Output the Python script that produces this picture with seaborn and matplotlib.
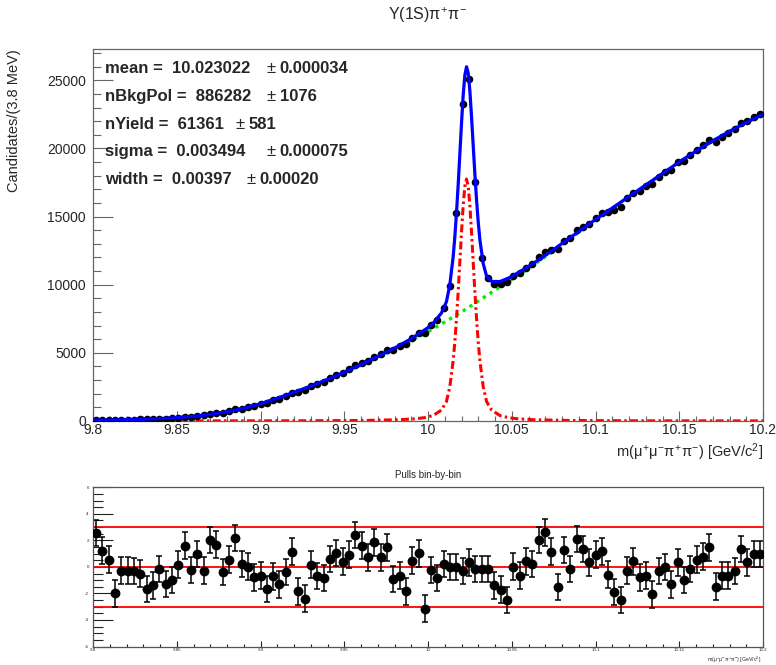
import numpy as np
import pandas as pd
import matplotlib
matplotlib.use("Agg")
import matplotlib.pyplot as plt
from matplotlib.ticker import MultipleLocator
import seaborn as sns

# ---------------- data ----------------
mass_lo, mass_hi, n_bins = 9.8, 10.2, 106

counts = [85, 79, 77, 59, 77, 92, 103, 113, 114, 136,
          169, 179, 208, 255, 313, 316, 383, 414, 514, 581,
          611, 699, 853, 905, 1009, 1104, 1232, 1345, 1527, 1649,
          1854, 2089, 2119, 2261, 2566, 2703, 2872, 3140, 3366, 3527,
          3794, 4102, 4261, 4430, 4725, 4886, 5175, 5234, 5497, 5655,
          6122, 6443, 6427, 7030, 7435, 8268, 9888, 15253, 23285, 25115,
          17524, 11972, 10459, 10067, 10078, 10188, 10669, 10858, 11247, 11520,
          12012, 12389, 12560, 12594, 13241, 13413, 14014, 14266, 14478, 14887,
          15240, 15336, 15476, 15731, 16337, 16711, 16886, 17244, 17376, 17923,
          18286, 18431, 18982, 19097, 19516, 19916, 20234, 20612, 20464, 20849,
          21106, 21405, 21898, 21997, 22310, 22539]

pulls = [2.55, 1.22, 0.55, -2.0, -0.28, -0.28, -0.32, -0.5, -1.65, -1.4,
         -0.15, -1.28, -0.98, 0.18, 1.6, -0.22, 0.98, -0.28, 2.02, 1.68,
         -0.4, 0.55, 2.18, 0.22, 0.02, -0.78, -0.65, -1.65, -0.72, -1.32,
         -0.4, 1.15, -1.85, -2.4, 0.18, -0.7, -0.85, 0.6, 1.05, 0.4,
         0.92, 2.42, 1.6, 0.72, 1.85, 0.72, 1.48, -0.9, -0.65, -1.85,
         0.48, 1.02, -3.15, -0.22, -0.85, 0.22, -0.02, -0.02, -0.32, 0.35,
         -0.15, -0.15, -0.15, -1.4, -1.72, -2.48, 0.02, -0.65, 0.42, 0.22,
         2.02, 2.6, 1.15, -1.52, 1.28, -0.15, 2.1, 1.35, 0.35, 0.92,
         1.18, -0.58, -1.9, -2.48, -0.28, 0.42, -0.78, -0.65, -2.08, -0.32,
         -0.02, -1.32, 0.35, -0.98, -0.15, 0.55, 0.78, 1.48, -1.48, -0.65,
         -0.65, -0.32, 1.35, 0.35, 0.98, 0.98]

# background component (green)
bkg_mass = [9.80, 9.81, 9.82, 9.83, 9.84, 9.85, 9.86, 9.87, 9.88, 9.89,
            9.90, 9.91, 9.92, 9.93, 9.94, 9.95, 9.96, 9.97, 9.98, 9.99,
            10.00, 10.01, 10.02, 10.03, 10.04, 10.05, 10.06, 10.07, 10.08, 10.09,
            10.10, 10.11, 10.12, 10.13, 10.14, 10.15, 10.16, 10.17, 10.18, 10.19, 10.20]
bkg_counts = [60, 70, 90, 120, 170, 240, 330, 470, 660, 920,
              1250, 1650, 2080, 2540, 3020, 3540, 4100, 4680, 5270, 5900,
              6560, 7260, 8000, 8800, 9600, 10400, 11200, 12050, 12950, 13850,
              14750, 15600, 16450, 17300, 18150, 19000, 19800, 20550, 21250, 21900, 22500]

# signal component (red)
sig_mass = [9.800, 9.923, 9.963, 9.983, 9.993, 9.998, 10.003, 10.008, 10.011, 10.013,
            10.015, 10.016, 10.017, 10.018, 10.019, 10.020, 10.021, 10.022, 10.023, 10.024,
            10.025, 10.026, 10.027, 10.028, 10.029, 10.030, 10.031, 10.033, 10.035, 10.038,
            10.043, 10.048, 10.053, 10.063, 10.083, 10.123, 10.200]
sig_counts = [4, 15, 41, 94, 169, 247, 396, 800, 1420, 2490,
              4400, 5770, 7480, 9450, 11630, 13830, 15820, 17230, 17760, 17230,
              15820, 13830, 11630, 9450, 7480, 5770, 4400, 2490, 1420, 800,
              396, 247, 169, 94, 41, 15, 5]

# total model (blue)
model_mass = [9.80, 9.81, 9.82, 9.83, 9.84, 9.85, 9.86, 9.87, 9.88, 9.89,
              9.90, 9.91, 9.92, 9.93, 9.94, 9.95, 9.96, 9.97, 9.98, 9.99,
              10.000, 10.003, 10.008, 10.011, 10.013, 10.015, 10.016, 10.017, 10.018, 10.019,
              10.020, 10.021, 10.022, 10.023, 10.024, 10.025, 10.026, 10.027, 10.028, 10.029,
              10.030, 10.031, 10.033, 10.035, 10.038, 10.043, 10.048, 10.05, 10.06, 10.07,
              10.08, 10.09, 10.10, 10.11, 10.12, 10.13, 10.14, 10.15, 10.16, 10.17,
              10.18, 10.19, 10.20]
model_counts = [64, 75, 96, 127, 178, 249, 341, 483, 675, 937,
                1270, 1672, 2105, 2568, 3052, 3578, 4140, 4735, 5350, 6040,
                6850, 7166, 7920, 8754, 9972, 12030, 13474, 15258, 17302, 19556,
                21830, 23900, 25390, 26000, 25550, 24220, 22310, 20190, 18090, 16200,
                14570, 13280, 11530, 10620, 10240, 10236, 10487, 10610, 11340, 12150,
                13025, 13905, 14790, 15630, 16475, 17320, 18165, 19012, 19810, 20560,
                21260, 21910, 22510]

param_lines = [("mean =  10.023022", "0.000034"),
               ("nBkgPol =  886282", "1076"),
               ("nYield =  61361", "581"),
               ("sigma =  0.003494", "0.000075"),
               ("width =  0.00397", "0.00020")]

tick_vals = [9.8, 9.85, 9.9, 9.95, 10.0, 10.05, 10.1, 10.15, 10.2]
tick_labs = ["9.8", "9.85", "9.9", "9.95", "10", "10.05", "10.1", "10.15", "10.2"]

# ---------------- style ----------------
sns.set_style("ticks")
plt.rcParams["font.family"] = ["Liberation Sans", "DejaVu Sans"]
plt.rcParams["mathtext.fontset"] = "custom"
plt.rcParams["mathtext.rm"] = "Liberation Sans"
plt.rcParams["mathtext.it"] = "Liberation Sans"
plt.rcParams["mathtext.bf"] = "Liberation Sans:bold"

W, H = 776, 665
fig = plt.figure(figsize=(W / 100, H / 100), dpi=100)

def fx(px):
    return px / W

def fy(py):
    return 1 - py / H

bin_w = (mass_hi - mass_lo) / n_bins
centers = mass_lo + (np.arange(n_bins) + 0.5) * bin_w
df = pd.DataFrame({"m": centers, "n": counts, "pull": pulls})

frame_col = "#666666"

# ---------------- main panel ----------------
ax = fig.add_axes([fx(93), fy(421), fx(763) - fx(93), fy(49) - fy(421)])

sns.lineplot(x=bkg_mass, y=bkg_counts, ax=ax, color="#00ee00", lw=2.4, sort=False, zorder=2)
ax.lines[-1].set_linestyle((0, (1, 1.4)))
sns.lineplot(x=sig_mass, y=sig_counts, ax=ax, color="#ff0000", lw=2.2, sort=False, zorder=2)
ax.lines[-1].set_linestyle((0, (2.6, 1.1, 0.8, 1.1)))
sns.scatterplot(data=df, x="m", y="n", ax=ax, color="black", s=30, linewidth=0, zorder=3)
sns.lineplot(x=model_mass, y=model_counts, ax=ax, color="#0000ff", lw=2.3, sort=False, zorder=4)

ax.set_xlim(mass_lo, mass_hi)
ax.set_ylim(0, 27300)
ax.set_xticks(tick_vals)
ax.set_xticklabels(tick_labs)
ax.xaxis.set_minor_locator(MultipleLocator(0.01))
ax.yaxis.set_major_locator(MultipleLocator(5000))
ax.yaxis.set_minor_locator(MultipleLocator(1000))
ax.tick_params(axis="y", which="major", direction="in", length=14.4, width=0.8,
               color=frame_col, labelsize=10, pad=5)
ax.tick_params(axis="y", which="minor", direction="in", length=6, width=0.8, color=frame_col)
ax.tick_params(axis="x", which="major", direction="in", length=7.2, width=0.8,
               color=frame_col, labelsize=10, pad=1.5)
ax.tick_params(axis="x", which="minor", direction="in", length=3.6, width=0.8, color=frame_col)
for sp in ax.spines.values():
    sp.set_visible(True)
    sp.set_color(frame_col)
    sp.set_linewidth(0.9)
ax.set_xlabel(r"m($\mu^{+}\mu^{-}\pi^{+}\pi^{-}$) [GeV/c$^{2}$]", fontsize=10.5, loc="right")
ax.xaxis.set_label_coords(1.0, -0.055)
ax.set_ylabel("Candidates/(3.8 MeV)", fontsize=10.5, loc="top")
ax.yaxis.set_label_coords(-0.108, 1.0)

fig.text(fx(428), fy(15), r"$\Upsilon$(1S)$\pi^{+}\pi^{-}$", ha="center", va="center",
         fontsize=11.5)

pm_x = [266.7, 266.7, 236, 266.7, 246.7]
line_y = [68.3, 96.7, 124.3, 151.7, 180]
for (lab, err), px, py in zip(param_lines, pm_x, line_y):
    fig.text(fx(105), fy(py), lab, fontsize=12, fontweight="bold", va="center")
    fig.text(fx(px), fy(py), "\u00b1", fontsize=12, va="center")
    fig.text(fx(px + 13), fy(py), err, fontsize=12, fontweight="bold", va="center")

# ---------------- pull panel ----------------
axp = fig.add_axes([fx(93), fy(646.5), fx(763) - fx(93), fy(487.3) - fy(646.5)])
for lvl in (-3, 0, 3):
    axp.axhline(lvl, color="#ff0000", lw=1.3, zorder=1)
axp.errorbar(df["m"], df["pull"], yerr=1.0, fmt="none", ecolor="black",
             elinewidth=1.1, capsize=2.0, capthick=1.1, zorder=2)
sns.scatterplot(data=df, x="m", y="pull", ax=axp, color="black", s=50, linewidth=0, zorder=3)
axp.set_xlim(mass_lo, mass_hi)
axp.set_ylim(-6, 6)
axp.set_xticks(tick_vals)
axp.set_xticklabels(tick_labs)
axp.xaxis.set_minor_locator(MultipleLocator(0.01))
axp.set_yticks([-6, -4, -2, 0, 2, 4, 6])
axp.set_yticklabels(["-6", "-4", "-2", "0", "2", "4", "6"])
axp.yaxis.set_minor_locator(MultipleLocator(0.5))
axp.tick_params(axis="y", which="major", direction="in", length=14.4, width=0.8,
                color="#222222", labelsize=3.2, pad=3)
axp.tick_params(axis="y", which="minor", direction="in", length=7, width=0.8, color="#222222")
axp.tick_params(axis="x", which="major", direction="in", length=4.5, width=0.8,
                color="#222222", labelsize=3.2, pad=1)
axp.tick_params(axis="x", which="minor", direction="in", length=2.2, width=0.8, color="#222222")
for sp in axp.spines.values():
    sp.set_visible(True)
    sp.set_color("#555555")
    sp.set_linewidth(0.9)
axp.set_xlabel("")
axp.set_ylabel("")
fig.text(fx(428), fy(475), "Pulls bin-by-bin", ha="center", va="center", fontsize=7)
fig.text(fx(761), fy(660), r"m($\mu^{+}\mu^{-}\pi^{+}\pi^{-}$) [GeV/c$^{2}$]",
         ha="right", va="center", fontsize=3.8)

fig.savefig("out.png", dpi=100)
